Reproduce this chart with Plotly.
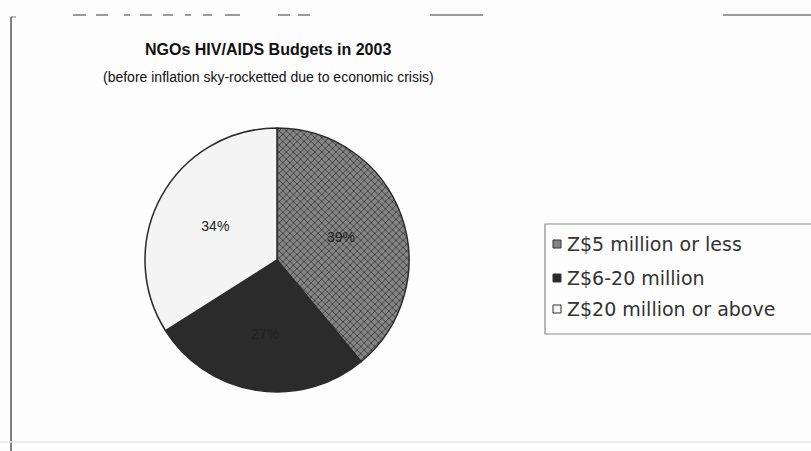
import plotly.graph_objects as go

labels = ["Z$5 million or less", "Z$6-20 million", "Z$20 million or above"]
values = [39, 27, 34]
title_text = "NGOs HIV/AIDS Budgets in 2003"
subtitle_text = "(before inflation sky-rocketted due to economic crisis)"

W, H = 811, 451
colors = ["#848484", "#2b2b2b", "#f4f4f4"]

fig = go.Figure()
fig.add_trace(go.Pie(
    labels=labels,
    values=values,
    sort=False,
    direction="clockwise",
    rotation=0,
    textinfo="percent",
    textposition="inside",
    insidetextorientation="horizontal",
    textfont=dict(family="Liberation Sans", size=14, color="#222222"),
    marker=dict(
        colors=colors,
        line=dict(color="#2a2a2a", width=1.5),
        pattern=dict(shape=["x", "", ""], fgcolor="#3a3a3a", bgcolor=["#848484", "#2b2b2b", "#f4f4f4"],
                     size=5, solidity=0.3),
    ),
    domain=dict(x=[145 / W, 409 / W], y=[1 - 392 / H, 1 - 128 / H]),
    showlegend=False,
    hoverinfo="label+percent",
))

ann = [
    dict(text="<b>" + title_text + "</b>", x=268 / W, y=1 - 49 / H, xref="paper", yref="paper",
         showarrow=False, xanchor="center", yanchor="middle",
         font=dict(family="Liberation Sans", size=16, color="#111111")),
    dict(text=subtitle_text, x=268 / W, y=1 - 77 / H, xref="paper", yref="paper",
         showarrow=False, xanchor="center", yanchor="middle",
         font=dict(family="Liberation Sans", size=14, color="#111111")),
]

shapes = []
# legend box
shapes.append(dict(type="rect", xref="paper", yref="paper",
                   x0=545 / W, x1=815 / W, y0=1 - 334 / H, y1=1 - 224 / H,
                   line=dict(color="#8a8a8a", width=1.2), fillcolor="rgba(0,0,0,0)"))
legend_y = [244, 278, 309]
for i, lab in enumerate(labels):
    yc = legend_y[i]
    shapes.append(dict(type="rect", xref="paper", yref="paper",
                       x0=553 / W, x1=561 / W, y0=1 - (yc + 4) / H, y1=1 - (yc - 4) / H,
                       line=dict(color="#333333", width=1), fillcolor=colors[i]))
    ann.append(dict(text=lab, x=565 / W, y=1 - yc / H, xref="paper", yref="paper",
                    showarrow=False, xanchor="left", yanchor="middle",
                    font=dict(family="DejaVu Sans", size=19, color="#333333")))

# scan frame lines
shapes.append(dict(type="line", xref="paper", yref="paper", x0=11 / W, x1=11 / W,
                   y0=0, y1=1 - 17 / H, line=dict(color="#555555", width=1.5)))
shapes.append(dict(type="line", xref="paper", yref="paper", x0=11 / W, x1=16 / W,
                   y0=1 - 17 / H, y1=1 - 17 / H, line=dict(color="#777777", width=1)))
for a, b in [(73, 86), (96, 108), (124, 130), (140, 152), (163, 173), (185, 191), (203, 212), (225, 240),
             (278, 290), (298, 310), (430, 483), (723, 811)]:
    shapes.append(dict(type="line", xref="paper", yref="paper", x0=a / W, x1=b / W,
                       y0=1 - 15 / H, y1=1 - 15 / H, line=dict(color="#9a9a9a", width=2)))
shapes.append(dict(type="line", xref="paper", yref="paper", x0=0, x1=1,
                   y0=1 - 442 / H, y1=1 - 442 / H, line=dict(color="#e4e4e4", width=1.5)))

fig.update_layout(
    width=W, height=H,
    margin=dict(l=0, r=0, t=0, b=0),
    paper_bgcolor="#fdfdfd",
    plot_bgcolor="#fdfdfd",
    annotations=ann,
    shapes=shapes,
)

fig.write_html("out.html", config={"displayModeBar": False},
               post_script="document.body.style.margin='0';document.body.style.overflow='hidden';")
